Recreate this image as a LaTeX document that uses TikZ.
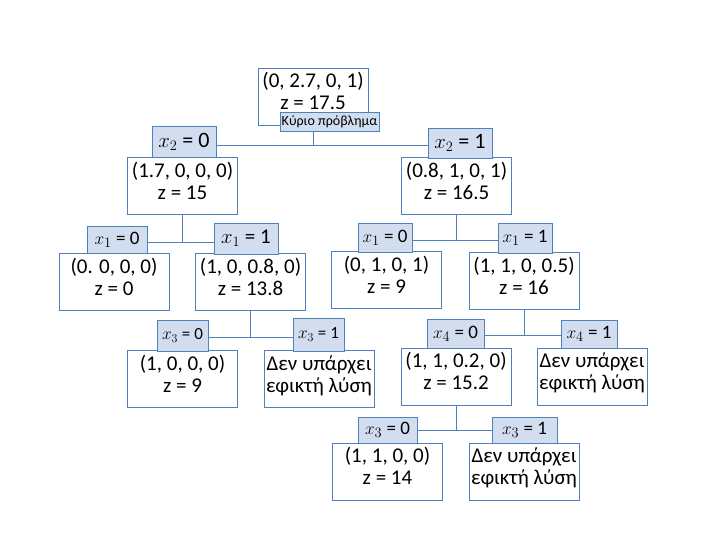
\documentclass[tikz,border=0pt]{standalone}
\usepackage{fontspec}
\setmainfont{Carlito}
\usepackage{tikz}
\usetikzlibrary{positioning,calc}
\definecolor{boxblue}{RGB}{79,129,189}
\definecolor{tagfill}{RGB}{210,222,240}

\begin{document}
\begin{tikzpicture}[x=1pt, y=-1pt,
    box/.style={draw=boxblue, line width=0.9pt, fill=white, align=center, inner sep=0pt,
        text height=34pt, text depth=8pt,
        minimum width=110pt, minimum height=57pt, font=\fontsize{21}{22}\selectfont},
    lbl/.style={draw=boxblue, line width=0.9pt, fill=tagfill, inner sep=0pt,
        minimum width=56pt, minimum height=29pt, font=\fontsize{19}{22}\selectfont},
    conn/.style={draw=boxblue, line width=0.9pt}]
    \useasboundingbox (0,0) rectangle (706,542);

    % Root
    \node[box] (root) at (313,96.5) {(0, 2.7, 0, 1)\\z = 17.5};
    \node[lbl, minimum width=99pt, minimum height=19pt, font=\fontsize{14}{16}\selectfont] (tag) at (329.5,121.5) {Κύριο πρόβλημα};

    % Level 1
    \node[box] (b1L) at (182.5,186) {(1.7, 0, 0, 0)\\z = 15};
    \node[box] (b1R) at (456.5,186) {(0.8, 1, 0, 1)\\z = 16.5};
    \node[lbl, minimum width=64pt, minimum height=31pt, font=\fontsize{22}{24}\selectfont] (l1L) at (184,141.5) {$x_2$ = 0};
    \node[lbl, minimum width=64pt, minimum height=30pt, font=\fontsize{22}{24}\selectfont] (l1R) at (460,143) {$x_2$ = 1};

    % Level 2
    \node[box] (b2a) at (114,282) {(0. 0, 0, 0)\\z = 0};
    \node[box] (b2b) at (250.5,282) {(1, 0, 0.8, 0)\\z = 13.8};
    \node[box] (b2c) at (386.5,280) {(0, 1, 0, 1)\\z = 9};
    \node[box] (b2d) at (524,281) {(1, 1, 0, 0.5)\\z = 16};
    \node[lbl, minimum width=60pt, minimum height=27pt] (l2a) at (117,239.5) {$x_1$ = 0};
    \node[lbl, minimum width=64pt, minimum height=31pt, font=\fontsize{21}{23}\selectfont] (l2b) at (246,238.5) {$x_1$ = 1};
    \node[lbl, minimum width=54pt] (l2c) at (385,237.5) {$x_1$ = 0};
    \node[lbl, minimum width=54pt, minimum height=30pt] (l2d) at (525,238) {$x_1$ = 1};

    % Level 3
    \node[box] (b3a) at (182.5,379) {(1, 0, 0, 0)\\z = 9};
    \node[box] (b3b) at (319,379) {Δεν υπάρχει\\εφικτή λύση};
    \node[box] (b3c) at (456,376.5) {(1, 1, 0.2, 0)\\z = 15.2};
    \node[box] (b3d) at (592,376.5) {Δεν υπάρχει\\εφικτή λύση};
    \node[lbl, minimum width=51pt, minimum height=31pt, font=\fontsize{17}{20}\selectfont] (l3a) at (182.5,335.5) {$x_3$ = 0};
    \node[lbl, minimum width=51pt, minimum height=33pt, font=\fontsize{17}{20}\selectfont] (l3b) at (318.5,334.5) {$x_3$ = 1};
    \node[lbl, minimum width=57pt] (l3c) at (455.5,333.5) {$x_4$ = 0};
    \node[lbl, minimum width=56pt, minimum height=28pt] (l3d) at (589,334) {$x_4$ = 1};

    % Level 4
    \node[box] (b4a) at (387.5,471.5) {(1, 1, 0, 0)\\z = 14};
    \node[box] (b4b) at (524,471.5) {Δεν υπάρχει\\εφικτή λύση};
    \node[lbl, minimum width=59pt, minimum height=26pt] (l4a) at (387.5,430) {$x_3$ = 0};
    \node[lbl, minimum width=65pt, minimum height=26pt] (l4b) at (524.5,430) {$x_3$ = 1};

    % Connectors
    \draw[conn] (root.south |- tag.south) -- ++(0,14) coordinate (j0);
    \draw[conn] (l1L.east |- j0) -- (l1R.west |- j0);
    \draw[conn] (b1L.south) -- ++(0,27) coordinate (j1);
    \draw[conn] (l2a.east |- j1) -- (l2b.west |- j1);
    \draw[conn] (b1R.south) -- ++(0,25) coordinate (j2);
    \draw[conn] (l2c.east |- j2) -- (l2d.west |- j2);
    \draw[conn] (b2b.south) -- ++(0,26) coordinate (j3);
    \draw[conn] (l3a.east |- j3) -- (l3b.west |- j3);
    \draw[conn] (b2d.south) -- ++(0,25) coordinate (j4);
    \draw[conn] (l3c.east |- j4) -- (l3d.west |- j4);
    \draw[conn] (b3c.south) -- ++(0,25) coordinate (j5);
    \draw[conn] (l4a.east |- j5) -- (l4b.west |- j5);
\end{tikzpicture}
\end{document}
